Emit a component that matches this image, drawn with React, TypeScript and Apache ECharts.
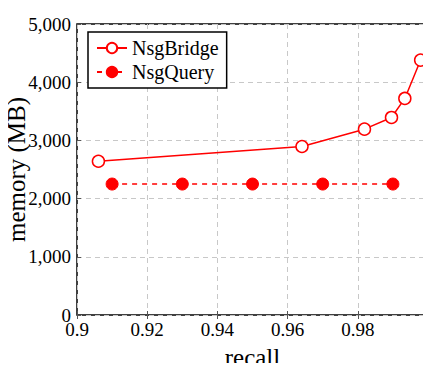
import React, { useEffect, useRef } from "react";
import * as echarts from "echarts";

const bridgeRecall = [0.9061, 0.9641, 0.9819, 0.9896, 0.9934, 0.9979];
const bridgeMemory = [2642, 2895, 3193, 3394, 3721, 4380];
const queryRecall = [0.91, 0.93, 0.95, 0.97, 0.99];
const queryMemory = [2250, 2250, 2250, 2250, 2250];

const FONT = "'Liberation Serif', 'DejaVu Serif', serif";
const RED = "#ff0000";

export default function App() {
  const ref = useRef<HTMLDivElement>(null);
  useEffect(() => {
    if (!ref.current) return;
    const chart = echarts.init(ref.current, undefined, { renderer: "svg" });
    const tick = { show: true, inside: true, length: 4, lineStyle: { color: "#555", width: 1 } };
    const grid = { show: true, lineStyle: { color: "#c8c8c8", type: [5, 4], width: 1 } };
    chart.setOption({
      animation: false,
      backgroundColor: "#ffffff",
      grid: {
        left: 77,
        right: 3,
        top: 24,
        bottom: 56,
        outerBoundsMode: "none",
        containLabel: false,
        show: true,
        borderColor: "#000",
        borderWidth: 1.5,
        backgroundColor: "transparent",
      },
      legend: {
        orient: "vertical",
        left: 88,
        top: 32,
        backgroundColor: "#fff",
        borderColor: "#000",
        borderWidth: 1.5,
        borderRadius: 0,
        padding: [6, 8, 6, 8],
        itemWidth: 30,
        itemHeight: 13,
        itemGap: 4,
        textStyle: { fontFamily: FONT, fontSize: 20, color: "#000" },
        data: ["NsgBridge", "NsgQuery"],
      },
      xAxis: [
        {
          type: "value",
          min: 0.9,
          max: 1,
          interval: 0.02,
          name: "recall",
          nameLocation: "middle",
          nameGap: 30,
          nameMoveOverlap: false,
          nameTextStyle: { fontFamily: FONT, fontSize: 25, color: "#000" },
          axisLine: { show: false },
          axisTick: tick,
          axisLabel: {
            fontFamily: FONT,
            fontSize: 19,
            color: "#000",
            margin: 5,
            formatter: (v: number) => String(Math.round(v * 100) / 100),
          },
          splitLine: grid,
        },
        {
          type: "value",
          position: "top",
          min: 0.9,
          max: 1,
          interval: 0.02,
          axisLine: { show: false },
          axisTick: tick,
          axisLabel: { show: false },
          splitLine: { show: false },
        },
      ],
      yAxis: [
        {
          type: "value",
          min: 0,
          max: 5000,
          interval: 1000,
          name: "memory (MB)",
          nameLocation: "middle",
          nameGap: 48,
          nameMoveOverlap: false,
          nameTextStyle: { fontFamily: FONT, fontSize: 25, color: "#000" },
          axisLine: { show: false },
          axisTick: tick,
          axisLabel: {
            fontFamily: FONT,
            fontSize: 19,
            color: "#000",
            margin: 6,
            formatter: (v: number) => v.toLocaleString("en-US"),
          },
          splitLine: grid,
        },
        {
          type: "value",
          position: "right",
          min: 0,
          max: 5000,
          interval: 1000,
          axisLine: { show: false },
          axisTick: tick,
          axisLabel: { show: false },
          splitLine: { show: false },
        },
      ],
      series: [
        {
          name: "NsgBridge",
          type: "line",
          data: bridgeRecall.map((r, i) => [r, bridgeMemory[i]]),
          symbol: "circle",
          symbolSize: 12,
          lineStyle: { color: RED, width: 1.5 },
          itemStyle: { color: "#fff", borderColor: RED, borderWidth: 1.5 },
          z: 3,
        },
        {
          name: "NsgQuery",
          type: "line",
          data: queryRecall.map((r, i) => [r, queryMemory[i]]),
          symbol: "circle",
          symbolSize: 12,
          lineStyle: { color: RED, width: 1.5, type: [5, 5] },
          itemStyle: { color: RED, borderColor: RED, borderWidth: 1 },
          z: 3,
        },
      ],
    });
    return () => chart.dispose();
  }, []);
  return <div ref={ref} style={{ width: 431, height: 371, margin: -8 }} />;
}
